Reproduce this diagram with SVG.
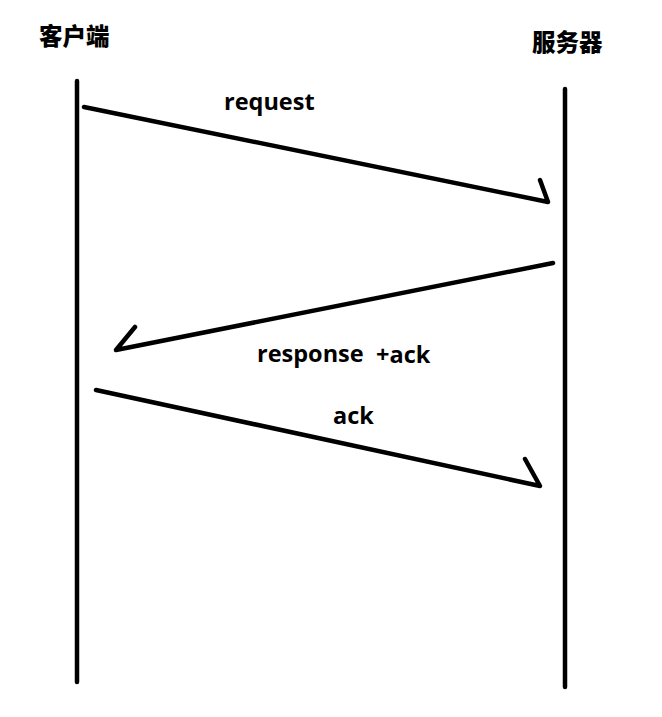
<svg xmlns="http://www.w3.org/2000/svg" width="662" height="717" viewBox="0 0 662 717">
<style>
.ln{stroke:#000;stroke-width:4.5;fill:none;stroke-linecap:round;stroke-linejoin:round}
.t{font-family:"Open Sans","Noto Sans CJK SC",sans-serif;font-weight:bold;font-size:23.5px;fill:#000}
.c{font-family:"Noto Sans CJK SC",sans-serif;font-weight:900;font-size:23.5px;fill:#000}
</style>
<rect width="662" height="717" fill="#fff"/>
<g id="client">
<text class="c" x="39" y="45">客户端</text>
<line class="ln" x1="77" y1="81" x2="77" y2="682"/>
</g>
<g id="server">
<text class="c" x="532" y="51">服务器</text>
<line class="ln" x1="565" y1="89" x2="565" y2="687"/>
</g>
<g id="connectors">
<path class="ln" d="M84,107 L548,202 L540,180"/>
<text class="t" x="224" y="110">request</text>
<path class="ln" d="M553,263 L116,350 L135,327"/>
<text class="t" x="257" y="362">response</text>
<text class="t" x="376" y="363">+ack</text>
<path class="ln" d="M96,390 L540,486 L525,459"/>
<text class="t" x="333" y="424">ack</text>
</g>
</svg>
